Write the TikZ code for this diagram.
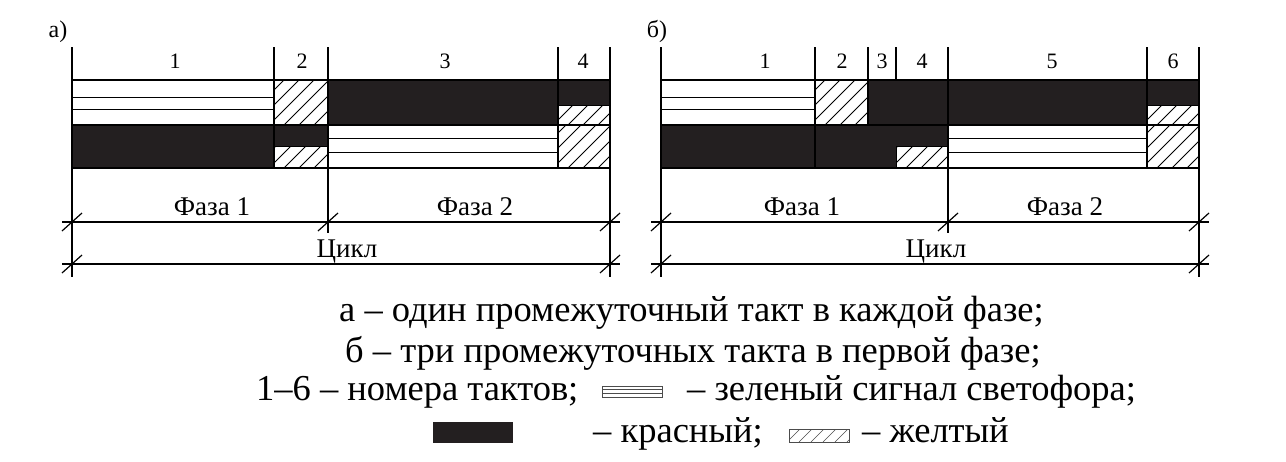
\documentclass[tikz,border=0pt]{standalone}
\usepackage{fontspec}
\setmainfont{Liberation Serif}
\usetikzlibrary{positioning}
\definecolor{redsig}{RGB}{35,31,32}
\tikzset{
  bar/.style={line width=1.3pt},
  stripe/.style={line width=1pt},
  hatchline/.style={line width=0.9pt},
  cellline/.style={line width=1pt},
  dimline/.style={line width=1.2pt},
  titlelbl/.style={font=\fontsize{24}{24}\selectfont, inner sep=0pt, anchor=base},
  numlbl/.style={font=\fontsize{22}{22}\selectfont, inner sep=0pt, anchor=base},
  dimlbl/.style={font=\fontsize{27}{27}\selectfont, inner sep=0pt, anchor=base},
  legtxt/.style={font=\fontsize{36.5}{36.5}\selectfont, inner sep=0pt, anchor=base west},
  swatch/.style={line width=0.6pt, black!70}
}
\newcommand{\hatchcell}[4]{%
  \begin{scope}
    \clip (#1,#2) rectangle (#3,#4);
    \foreach \k in {-50,-35,...,60}
      \draw[hatchline] (#1+\k,#4) -- ++(60,-60);
  \end{scope}
  \draw[cellline] (#1,#2) rectangle (#3,#4);}
\newcommand{\dimtick}[2]{\draw[dimline] (#1-10,#2+9) -- (#1+10,#2-9);}

\begin{document}
\begin{tikzpicture}[x=1pt,y=-1pt]
	\useasboundingbox (0,0) rectangle (1286,461);
	% --- a) ---
	\node[titlelbl] (aTitle) at (58,37) {а)};
	\fill[redsig] (72,125) rectangle (328,146);
	\fill[redsig] (72,146) rectangle (274,168);
	\fill[redsig] (328,80) rectangle (610,105);
	\fill[redsig] (328,105) rectangle (558,125);
	\draw[stripe] (72,97) -- (274,97) (72,109) -- (274,109);
	\draw[stripe] (328,138) -- (558,138) (328,152) -- (558,152);
	\hatchcell{274}{80}{328}{125}
	\hatchcell{274}{146}{328}{168}
	\hatchcell{558}{105}{610}{125}
	\hatchcell{558}{125}{610}{168}
	\draw[bar] (72,80) -- (610,80) (72,125) -- (610,125) (72,168) -- (610,168);
	\draw[bar] (72,47) -- (72,277) (274,47) -- (274,168) (328,47) -- (328,233)
	  (558,47) -- (558,168) (610,47) -- (610,277);
	\node[numlbl] (aT1) at (175,68) {1};
	\node[numlbl] (aT2) at (302,68) {2};
	\node[numlbl] (aT3) at (445,68) {3};
	\node[numlbl] (aT4) at (583,68) {4};
	\node[dimlbl] (aPh1) at (212,215) {Фаза 1};
	\node[dimlbl] (aPh2) at (475,215) {Фаза 2};
	\node[dimlbl] (aCyc) at (347,257) {Цикл};
	\coordinate (aPhL) at (62,222);
	\coordinate (aPhR) at (620,222);
	\coordinate (aCyL) at (62,264);
	\coordinate (aCyR) at (620,264);
	\draw[dimline] (aPhL) -- (aPhR);
	\draw[dimline] (aCyL) -- (aCyR);
	\dimtick{72}{222} \dimtick{328}{222} \dimtick{610}{222}
	\dimtick{72}{264} \dimtick{610}{264}
	% --- b) ---
	\node[titlelbl] (bTitle) at (657,37) {б)};
	\fill[redsig] (661,125) rectangle (948,146);
	\fill[redsig] (661,146) rectangle (896,168);
	\fill[redsig] (868,80) rectangle (1199,105);
	\fill[redsig] (868,105) rectangle (1147,125);
	\draw[stripe] (661,97) -- (815,97) (661,109) -- (815,109);
	\draw[stripe] (948,138) -- (1147,138) (948,152) -- (1147,152);
	\hatchcell{815}{80}{868}{125}
	\hatchcell{896}{146}{948}{168}
	\hatchcell{1147}{105}{1199}{125}
	\hatchcell{1147}{125}{1199}{168}
	\draw[bar] (661,80) -- (1199,80) (661,125) -- (1199,125) (661,168) -- (1199,168);
	\draw[bar] (661,47) -- (661,277) (815,47) -- (815,168) (868,47) -- (868,125)
	  (896,47) -- (896,80) (948,47) -- (948,233) (1147,47) -- (1147,168)
	  (1199,47) -- (1199,277);
	\node[numlbl] (bT1) at (765,68) {1};
	\node[numlbl] (bT2) at (842,68) {2};
	\node[numlbl] (bT3) at (882,68) {3};
	\node[numlbl] (bT4) at (922,68) {4};
	\node[numlbl] (bT5) at (1052,68) {5};
	\node[numlbl] (bT6) at (1173,68) {6};
	\node[dimlbl] (bPh1) at (802,215) {Фаза 1};
	\node[dimlbl] (bPh2) at (1065,215) {Фаза 2};
	\node[dimlbl] (bCyc) at (936,257) {Цикл};
	\coordinate (bPhL) at (651,222);
	\coordinate (bPhR) at (1209,222);
	\coordinate (bCyL) at (651,264);
	\coordinate (bCyR) at (1209,264);
	\draw[dimline] (bPhL) -- (bPhR);
	\draw[dimline] (bCyL) -- (bCyR);
	\dimtick{661}{222} \dimtick{948}{222} \dimtick{1199}{222}
	\dimtick{661}{264} \dimtick{1199}{264}
	% --- legend ---
	\node[legtxt] (legA) at (339,321) {а – один промежуточный такт в каждой фазе;};
	\node[legtxt] (legB) at (345,362) {б – три промежуточных такта в первой фазе;};
	\node[legtxt] (legNum) at (256,400) {1–6 – номера тактов;};
	\draw[swatch] (602,386) rectangle (662,397)
	  (602,389.7) -- (662,389.7) (602,393.3) -- (662,393.3);
	\node[legtxt] (legGreen) at (687,400) {– зеленый сигнал светофора;};
	\fill[redsig] (433,422) rectangle (513,443);
	\node[legtxt] (legRed) at (593,442) {– красный;};
	\begin{scope}
	  \clip (789,429) rectangle (849,442);
	  \foreach \k in {-14,-2,...,60}
	    \draw[swatch] (789+\k,442) -- ++(13,-13);
	\end{scope}
	\draw[swatch] (789,429) rectangle (849,442);
	\node[legtxt] (legYel) at (862,442) {– желтый};
\end{tikzpicture}
\end{document}
